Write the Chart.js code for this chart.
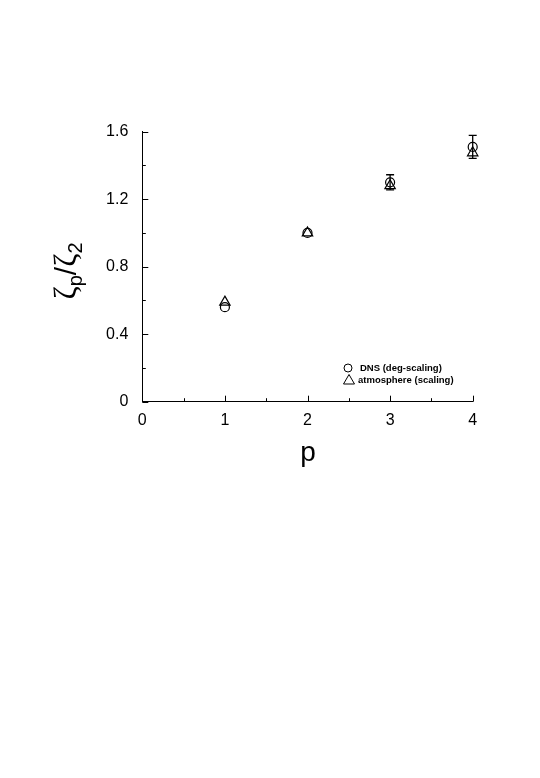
<!DOCTYPE html>
<html>
<head>
<meta charset="utf-8">
<script src="https://cdn.jsdelivr.net/npm/chart.js@4/dist/chart.umd.min.js"></script>
<style>
  html, body { margin:0; padding:0; background:#fff; }
  #wrap { width:540px; height:778px; }
</style>
</head>
<body>
<div id="wrap"><canvas id="chart" width="540" height="778"></canvas></div>
<script>
// data
const pValues = [1, 2, 3, 4];
const dnsValues = [0.56, 1.0, 1.30, 1.51];
const dnsErrors = [0, 0, 0.045, 0.068];
const atmValues = [0.59, 1.0, 1.28, 1.475];
const yTicks = [0, 0.4, 0.8, 1.2, 1.6];
const xTicks = [0, 1, 2, 3, 4];
const seriesNames = ['DNS (deg-scaling)', 'atmosphere (scaling)'];

const FONT = '"Liberation Sans", Arial, sans-serif';
const GREEK = '"Liberation Serif", "DejaVu Serif", serif';

// inward ticks, major + minor
const tickPlugin = {
  id: 'inTicks',
  afterDraw(chart){
    const ctx = chart.ctx;
    const xs = chart.scales.x, ys = chart.scales.y;
    const a = chart.chartArea;
    ctx.save();
    ctx.strokeStyle = '#000';
    ctx.lineWidth = 1;
    ctx.beginPath();
    for(let v = 0; v <= 1.6001; v += 0.2){
      const y = Math.round(ys.getPixelForValue(v)) + 0.5;
      const major = yTicks.some(t => Math.abs(t - v) < 1e-6);
      ctx.moveTo(a.left, y);
      ctx.lineTo(a.left + (major ? 6 : 3.5), y);
    }
    for(let v = 0; v <= 4.0001; v += 0.5){
      const x = Math.round(xs.getPixelForValue(v)) + 0.5;
      const major = xTicks.some(t => Math.abs(t - v) < 1e-6);
      ctx.moveTo(x, a.bottom);
      ctx.lineTo(x, a.bottom - (major ? 6 : 3.5));
    }
    ctx.stroke();
    ctx.restore();
  }
};

// error bars on the DNS series
const errorBarPlugin = {
  id: 'errBars',
  afterDatasetsDraw(chart){
    const ctx = chart.ctx;
    const xs = chart.scales.x, ys = chart.scales.y;
    ctx.save();
    ctx.strokeStyle = '#000';
    ctx.lineWidth = 1.3;
    pValues.forEach((p, i) => {
      const e = dnsErrors[i];
      if(!e) return;
      const x = xs.getPixelForValue(p);
      const yTop = ys.getPixelForValue(dnsValues[i] + e);
      const yBot = ys.getPixelForValue(dnsValues[i] - e);
      ctx.beginPath();
      ctx.moveTo(x, yTop); ctx.lineTo(x, yBot);
      ctx.moveTo(x - 4, yTop); ctx.lineTo(x + 4, yTop);
      ctx.moveTo(x - 4, yBot); ctx.lineTo(x + 4, yBot);
      ctx.stroke();
    });
    ctx.restore();
  }
};

// axis titles and the in-plot legend
const labelPlugin = {
  id: 'labels',
  afterDraw(chart){
    const ctx = chart.ctx;
    ctx.save();
    ctx.fillStyle = '#000';
    ctx.font = '28px ' + FONT;
    ctx.textAlign = 'center';
    ctx.textBaseline = 'alphabetic';
    ctx.fillText('p', 308, 461);

    // y title, rotated: zeta_p / zeta_2
    ctx.translate(76, 271);
    ctx.rotate(-Math.PI/2);
    const parts = [
      { t: '\u03B6', font: '32px ' + GREEK, dy: 0 },
      { t: 'p', font: '20px ' + FONT, dy: 6 },
      { t: '/', font: '30px ' + FONT, dy: 0 },
      { t: '\u03B6', font: '32px ' + GREEK, dy: 0 },
      { t: '2', font: '20px ' + FONT, dy: 6 }
    ];
    let total = 0;
    parts.forEach(pt => { ctx.font = pt.font; pt.w = ctx.measureText(pt.t).width; total += pt.w; });
    let cx = -total/2;
    ctx.textAlign = 'left';
    parts.forEach(pt => {
      ctx.font = pt.font;
      ctx.fillText(pt.t, cx, pt.dy);
      cx += pt.w;
    });
    ctx.setTransform(1,0,0,1,0,0);

    // legend
    ctx.strokeStyle = '#000';
    ctx.lineWidth = 1;
    ctx.beginPath();
    ctx.arc(348, 368, 4, 0, Math.PI*2);
    ctx.stroke();
    ctx.beginPath();
    ctx.moveTo(349, 374.5); ctx.lineTo(343.5, 384); ctx.lineTo(354.5, 384); ctx.closePath();
    ctx.stroke();
    ctx.font = 'bold 9.5px ' + FONT;
    ctx.textBaseline = 'middle';
    ctx.fillText(seriesNames[0], 360, 368.5);
    ctx.fillText(seriesNames[1], 358, 380.5);
    ctx.restore();
  }
};

new Chart(document.getElementById('chart'), {
  type: 'scatter',
  data: {
    datasets: [
      {
        label: seriesNames[0],
        data: pValues.map((p, i) => ({ x: p, y: dnsValues[i] })),
        pointStyle: 'circle',
        pointRadius: 4.5,
        pointBorderWidth: 1.2,
        borderColor: '#000',
        backgroundColor: 'rgba(0,0,0,0)',
        clip: false
      },
      {
        label: seriesNames[1],
        data: pValues.map((p, i) => ({ x: p, y: atmValues[i] })),
        pointStyle: 'triangle',
        pointRadius: 6,
        pointBorderWidth: 1.2,
        borderColor: '#000',
        backgroundColor: 'rgba(0,0,0,0)',
        clip: false
      }
    ]
  },
  options: {
    responsive: false,
    animation: false,
    layout: { padding: { left: 0, right: 67.3, top: 131.7, bottom: 0 } },
    plugins: { legend: { display: false }, tooltip: { enabled: false } },
    scales: {
      x: {
        type: 'linear',
        min: 0, max: 4,
        afterBuildTicks: s => { s.ticks = xTicks.map(v => ({ value: v })); },
        afterFit: s => { s.height = 778 - 401.7; },
        grid: { display: false, drawTicks: false },
        border: { display: true, color: '#000', width: 1 },
        ticks: { color: '#000', padding: 9, maxRotation: 0, font: { family: FONT, size: 16 }, callback: v => String(v) }
      },
      y: {
        type: 'linear',
        min: 0, max: 1.6,
        afterBuildTicks: s => { s.ticks = yTicks.map(v => ({ value: v })); },
        afterFit: s => { s.width = 142.3; },
        grid: { display: false, drawTicks: false },
        border: { display: true, color: '#000', width: 1 },
        ticks: { color: '#000', padding: 14, font: { family: FONT, size: 16 }, callback: v => v === 0 ? '0' : v.toFixed(1) }
      }
    }
  },
  plugins: [tickPlugin, errorBarPlugin, labelPlugin]
});
</script>
</body>
</html>
